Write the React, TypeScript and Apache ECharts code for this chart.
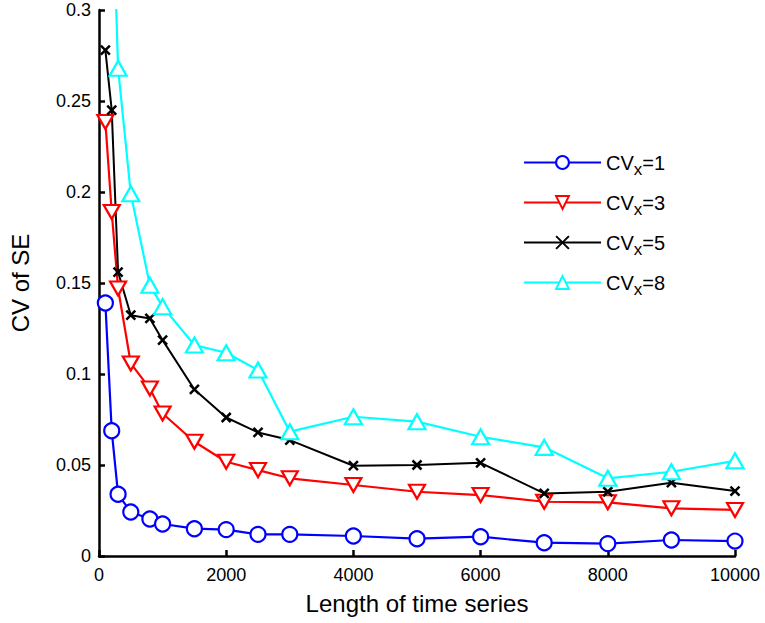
import React, { useEffect, useRef } from "react";
import * as echarts from "echarts";

const xValues = [100, 200, 300, 500, 800, 1000, 1500, 2000, 2500, 3000, 4000, 5000, 6000, 7000, 8000, 9000, 10000];
const cv1 = [0.139, 0.0688, 0.0339, 0.0242, 0.0203, 0.0176, 0.015, 0.0145, 0.0119, 0.0119, 0.011, 0.0095, 0.0106, 0.0073, 0.0068, 0.0088, 0.0082];
const cv3 = [0.2385, 0.189, 0.147, 0.1058, 0.092, 0.0783, 0.0628, 0.0518, 0.0472, 0.0427, 0.039, 0.0353, 0.0335, 0.0298, 0.0295, 0.0262, 0.0253];
const cv5 = [0.278, 0.245, 0.156, 0.1323, 0.1305, 0.1186, 0.0915, 0.0761, 0.0679, 0.0637, 0.0496, 0.05, 0.0512, 0.0344, 0.0353, 0.0403, 0.0357];
const cv8 = [0.45, 0.38, 0.268, 0.199, 0.1488, 0.137, 0.1159, 0.1117, 0.1022, 0.0683, 0.0765, 0.0738, 0.0655, 0.0597, 0.0427, 0.0463, 0.0523];
const seriesNames = ["CVx=1", "CVx=3", "CVx=5", "CVx=8"];
const legendLabels = ["1", "3", "5", "8"];
const colors = ["#0000ff", "#ff0000", "#000000", "#00ffff"];

const FONT = "Liberation Sans, Arial, sans-serif";

export default function App() {
  const ref = useRef<HTMLDivElement>(null);
  useEffect(() => {
    document.body.style.margin = "0";
    const chart = echarts.init(ref.current!, null, { renderer: "svg" });
    const pair = (ys: number[]) => xValues.map((x, i) => [x, ys[i]]);
    const base = (i: number) => ({
      name: seriesNames[i],
      type: "line",
      clip: true,
      lineStyle: { color: colors[i], width: 2.2 },
      itemStyle: { color: "#ffffff", borderColor: colors[i], borderWidth: 2.2 },
    });
    chart.setOption({
      animation: false,
      textStyle: { fontFamily: FONT },
      grid: { left: 97, right: 30, top: 10, bottom: 67 },
      legend: {
        orient: "vertical",
        left: 518,
        top: 142,
        itemWidth: 77,
        itemHeight: 16,
        itemGap: 9,
        data: seriesNames,
        formatter: (name: string) => {
          const i = seriesNames.indexOf(name);
          return `{a|CV}{s|x}{a|=${legendLabels[i]}}`;
        },
        textStyle: {
          fontFamily: FONT,
          color: "#000",
          rich: {
            a: { fontSize: 20, lineHeight: 28, fontFamily: FONT, color: "#000" },
            s: { fontSize: 17, lineHeight: 28, fontFamily: FONT, color: "#000", padding: [14, 0, 0, 0] },
          },
        },
      },
      xAxis: {
        type: "value",
        min: 0,
        max: 10000,
        interval: 2000,
        name: "Length of time series",
        nameLocation: "middle",
        nameGap: 35,
        nameTextStyle: { fontSize: 24, color: "#000", fontFamily: FONT },
        axisLine: { lineStyle: { color: "#000", width: 2.5 } },
        axisTick: { inside: true, length: 6, lineStyle: { color: "#000", width: 2.5 } },
        axisLabel: { fontSize: 18, color: "#000", margin: 10, fontFamily: FONT, formatter: (v: number) => String(v) },
        splitLine: { show: false },
      },
      yAxis: {
        type: "value",
        min: 0,
        max: 0.3,
        interval: 0.05,
        name: "CV of SE",
        nameLocation: "middle",
        nameGap: 67,
        nameTextStyle: { fontSize: 24, color: "#000", fontFamily: FONT },
        axisLine: { show: true, lineStyle: { color: "#000", width: 2.5 } },
        axisTick: { show: true, inside: true, length: 6, lineStyle: { color: "#000", width: 2.5 } },
        axisLabel: { fontSize: 18, color: "#000", margin: 8, fontFamily: FONT },
        splitLine: { show: false },
      },
      series: [
        { ...base(0), data: pair(cv1), symbol: "circle", symbolSize: 15 },
        { ...base(1), data: pair(cv3), symbol: "triangle", symbolRotate: 180, symbolSize: [16, 14] },
        {
          ...base(2),
          data: pair(cv5),
          symbol: "path://M0,0L10,10M10,0L0,10",
          symbolSize: 9,
          lineStyle: { color: colors[2], width: 2 },
          itemStyle: { color: "none", borderColor: colors[2], borderWidth: 2.5 },
        },
        { ...base(3), data: pair(cv8), symbol: "triangle", symbolSize: [17, 15] },
      ],
    });
    return () => chart.dispose();
  }, []);
  return <div ref={ref} style={{ width: 765, height: 623 }} />;
}
